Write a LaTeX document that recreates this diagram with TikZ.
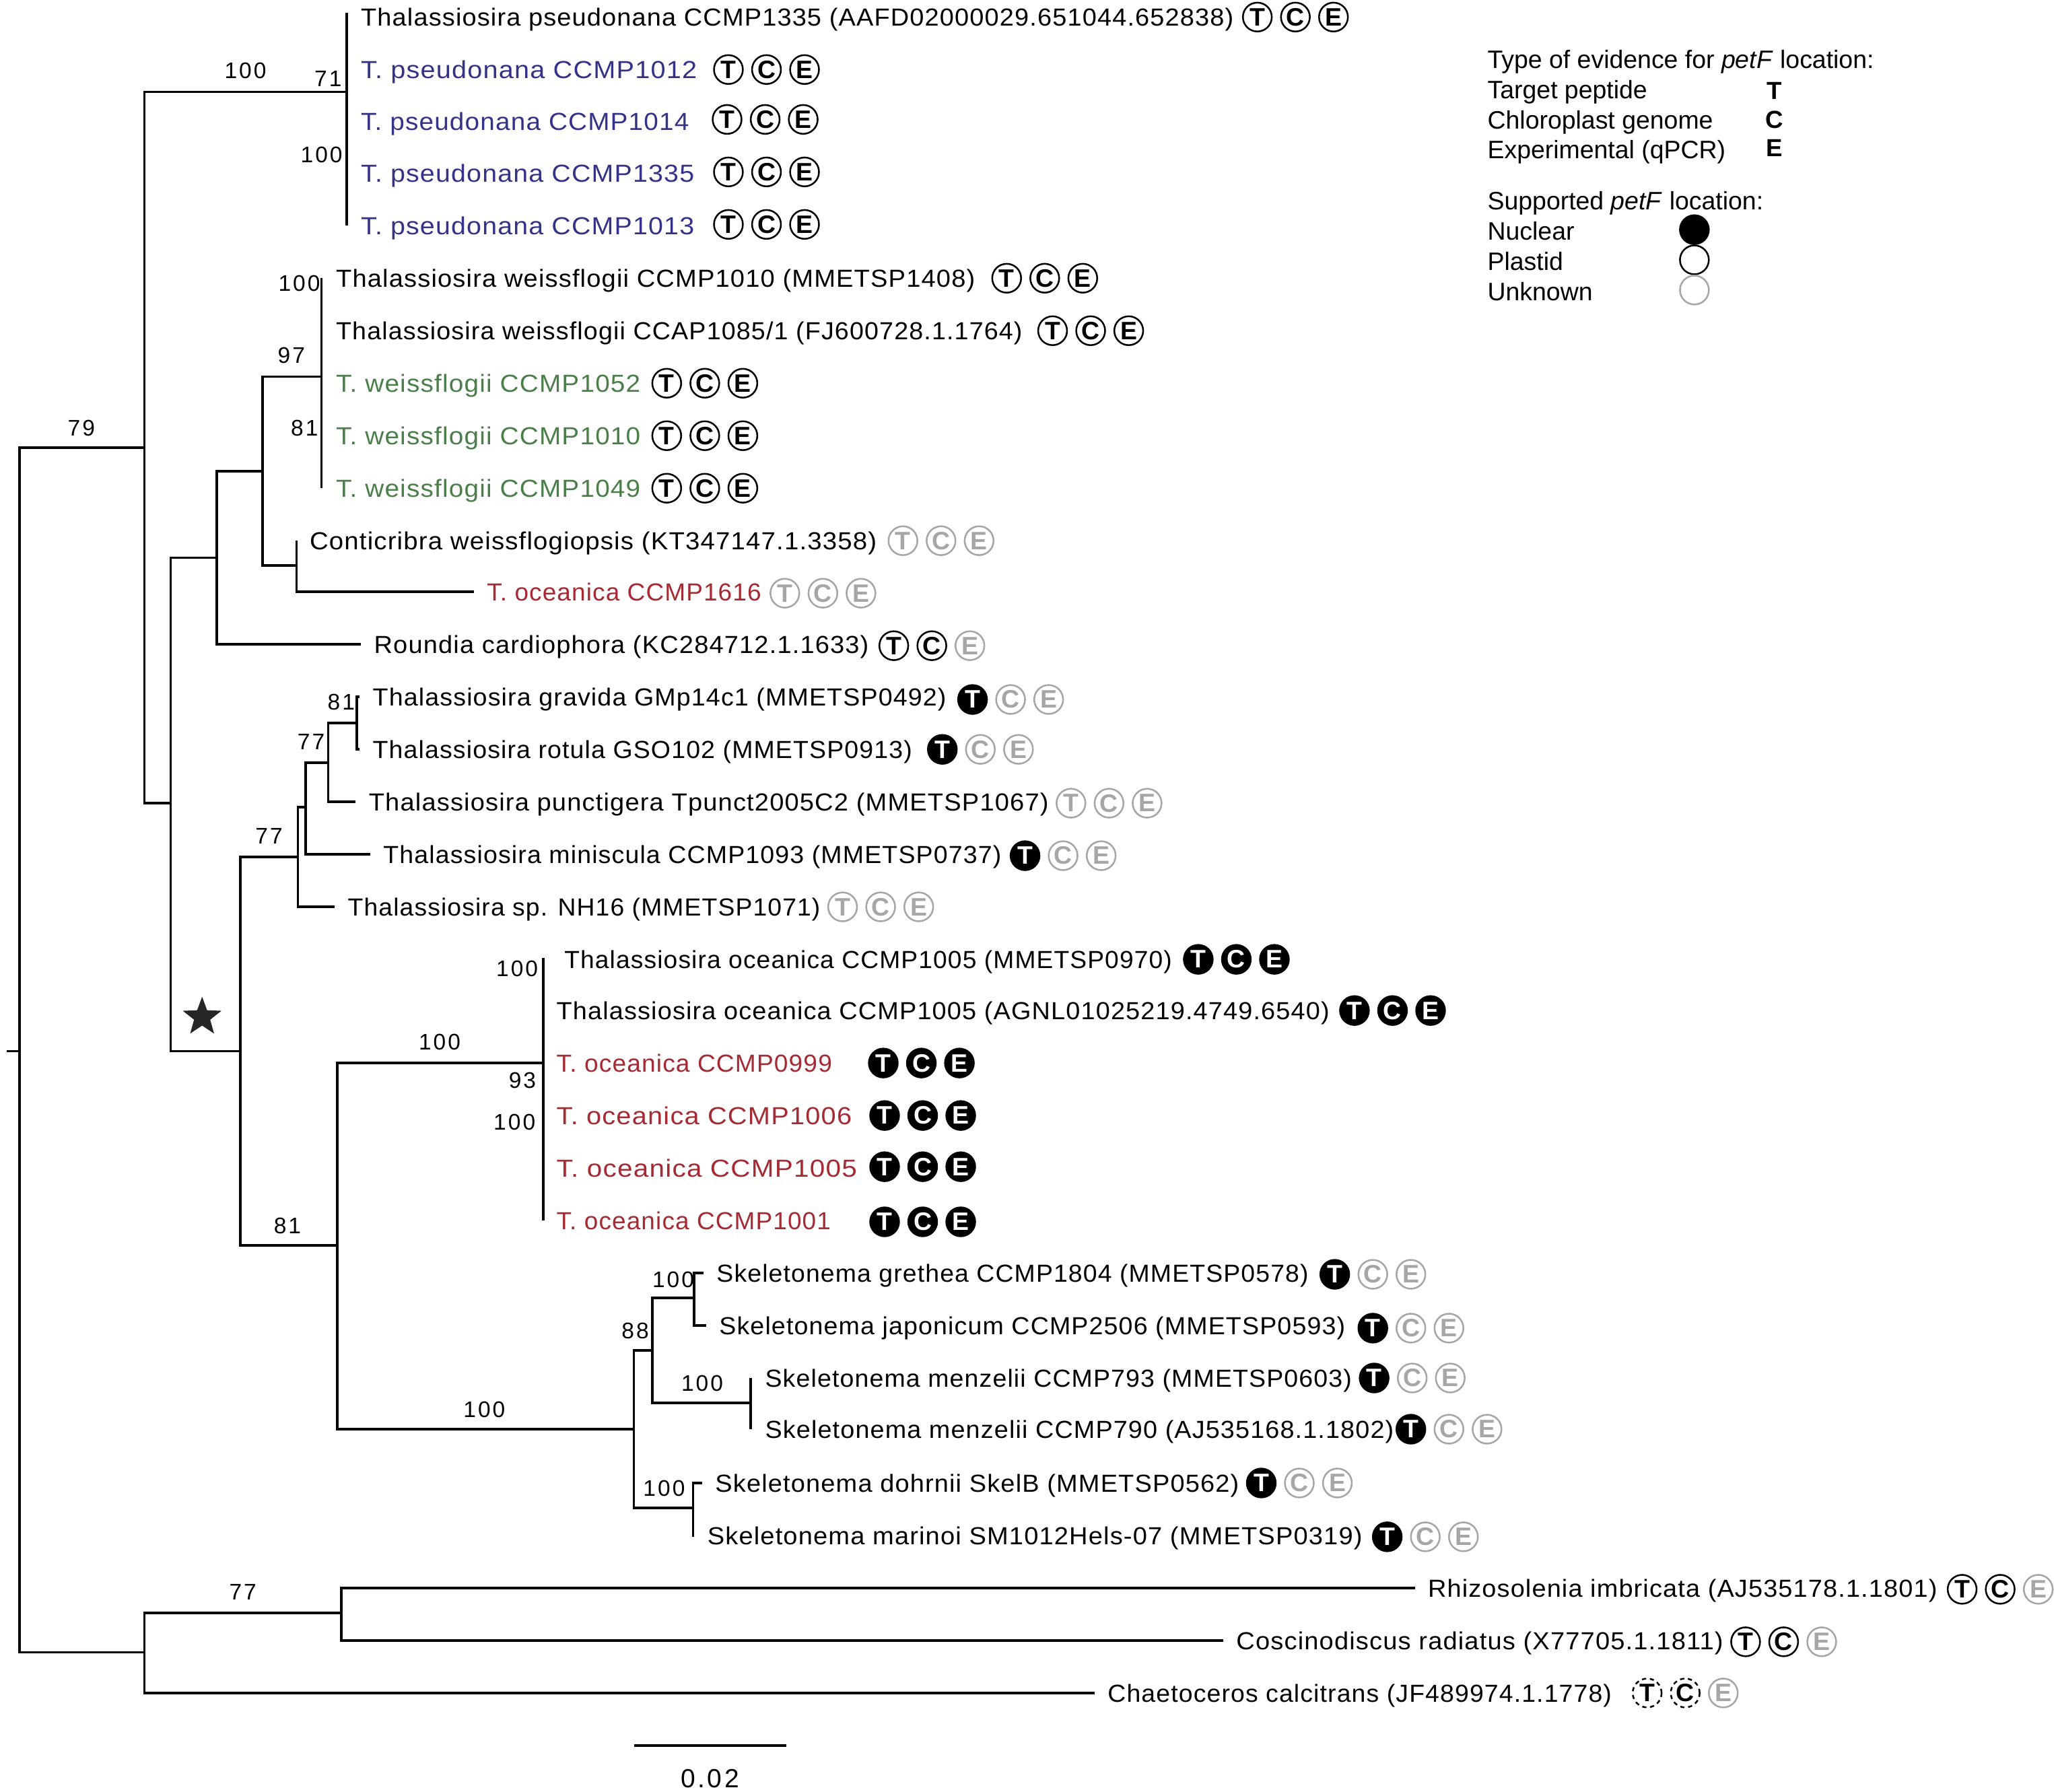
\documentclass[tikz,border=0pt]{standalone}
\usepackage{fontspec}
\usepackage{graphicx}
\usetikzlibrary{shapes.geometric}
\setmainfont{Liberation Sans}
\newfontfamily\taxfont[LetterSpace=3]{Liberation Sans}
\newfontfamily\numfont[LetterSpace=9]{Liberation Sans}
\definecolor{pseublue}{HTML}{343388}
\definecolor{weisgreen}{HTML}{4A7F4A}
\definecolor{oceared}{HTML}{A52A33}
\definecolor{unkgrey}{HTML}{A6A6A6}
\setlength{\unitlength}{0.5pt}
\tikzset{
    branch/.style={line width=0.95pt},
    taxon/.style={anchor=west, inner sep=0pt, outer sep=5pt, text height=9.2pt, text depth=2.2pt,
        font=\taxfont\fontsize{9.4}{12}\selectfont},
    num/.style={inner sep=0pt, font=\numfont\fontsize{8.6}{10}\selectfont},
    legtext/.style={anchor=west, inner sep=0pt, text height=9.2pt, text depth=2.2pt,
        font=\fontsize{9.6}{11}\selectfont},
    legkey/.style={inner sep=0pt, font=\bfseries\fontsize{9.4}{11}\selectfont},
    badge/.style={circle, draw, line width=0.65pt, minimum size=11pt, inner sep=0pt,
        font=\bfseries\fontsize{9.6}{10}\selectfont},
    plastid/.style={badge},
    nuclear/.style={badge, fill=black, text=white},
    unknown/.style={badge, draw=unkgrey, text=unkgrey},
    uncertain/.style={badge, dashed, dash pattern=on 1.6pt off 1.4pt},
}
% three evidence marks of one taxon
\newcommand{\evid}[6]{
    \node[#4] (#1T) at (#2,#3) {T};
    \node[#5] (#1C) at ({#2+29},#3) {C};
    \node[#6] (#1E) at ({#2+58},#3) {E};
}
% label set to the width it has in the figure
\newcommand{\tx}[2]{\resizebox{#1\unitlength}{\height}{#2}}
\begin{document}
\begin{tikzpicture}[x=0.5pt, y=-0.5pt]
    \useasboundingbox (0,0) rectangle (1565,1365);

    % inner nodes of the tree
    \coordinate (stub) at (5,801);
    \coordinate (root) at (15,801);
    \coordinate (core) at (110,341);
    \coordinate (outg) at (110,1259);
    \coordinate (pseu) at (264,70);
    \coordinate (pseutop) at (264,10);
    \coordinate (pseubot) at (264,172);
    \coordinate (rest) at (130,612);
    \coordinate (upper) at (165,425);
    \coordinate (lower) at (183,801);
    \coordinate (wecl) at (200,359);
    \coordinate (weis) at (245,287);
    \coordinate (weistop) at (245,212);
    \coordinate (weisbot) at (245,372);
    \coordinate (cont) at (226,431);
    \coordinate (grav) at (227,653);
    \coordinate (grmi) at (233,615);
    \coordinate (grpu) at (250,581);
    \coordinate (grro) at (272,551);
    \coordinate (ocsk) at (257,949);
    \coordinate (ocea) at (414,810);
    \coordinate (oceatop) at (414,730);
    \coordinate (oceabot) at (414,930);
    \coordinate (skel) at (483,1089);
    \coordinate (skup) at (497,1029);
    \coordinate (skgj) at (529,989);
    \coordinate (menz) at (572,1069);
    \coordinate (menztop) at (572,1050);
    \coordinate (menzbot) at (572,1089);
    \coordinate (skdm) at (528,1149);
    \coordinate (rhco) at (260,1229);
    \coordinate (scalea) at (483,1330);
    \coordinate (scaleb) at (599,1330);

    % taxa
    \node[taxon] (tp1) at (265,13) {\tx{665}{Thalassiosira pseudonana CCMP1335 (AAFD02000029.651044.652838)}};
    \node[taxon, text=pseublue] (tp2) at (265,53) {\tx{256}{T. pseudonana CCMP1012}};
    \node[taxon, text=pseublue] (tp3) at (265,92) {\tx{250}{T. pseudonana CCMP1014}};
    \node[taxon, text=pseublue] (tp4) at (265,132) {\tx{254}{T. pseudonana CCMP1335}};
    \node[taxon, text=pseublue] (tp5) at (265,172) {\tx{254}{T. pseudonana CCMP1013}};
    \node[taxon] (tw1) at (246,212) {\tx{487}{Thalassiosira weissflogii CCMP1010 (MMETSP1408)}};
    \node[taxon] (tw2) at (246,252) {\tx{523}{Thalassiosira weissflogii CCAP1085/1 (FJ600728.1.1764)}};
    \node[taxon, text=weisgreen] (tw3) at (246,292) {\tx{232}{T. weissflogii CCMP1052}};
    \node[taxon, text=weisgreen] (tw4) at (246,332) {\tx{232}{T. weissflogii CCMP1010}};
    \node[taxon, text=weisgreen] (tw5) at (246,372) {\tx{232}{T. weissflogii CCMP1049}};
    \node[taxon] (cw) at (226,412) {\tx{432}{Conticribra weissflogiopsis (KT347147.1.3358)}};
    \node[taxon, text=oceared] (to1) at (361,451) {\tx{209}{T. oceanica CCMP1616}};
    \node[taxon] (rc) at (275,491) {\tx{377}{Roundia cardiophora (KC284712.1.1633)}};
    \node[taxon] (tg) at (274,531) {\tx{437}{Thalassiosira gravida GMp14c1 (MMETSP0492)}};
    \node[taxon] (tr) at (274,571) {\tx{411}{Thalassiosira rotula GSO102 (MMETSP0913)}};
    \node[taxon] (tu) at (271,611) {\tx{518}{Thalassiosira punctigera Tpunct2005C2 (MMETSP1067)}};
    \node[taxon] (tm) at (282,651) {\tx{471}{Thalassiosira miniscula CCMP1093 (MMETSP0737)}};
    \node[taxon] (ts) at (255,691) {\tx{360}{Thalassiosira sp. NH16 (MMETSP1071)}};
    \node[taxon] (oc1) at (420,731) {\tx{463}{Thalassiosira oceanica CCMP1005 (MMETSP0970)}};
    \node[taxon] (oc2) at (414,770) {\tx{589}{Thalassiosira oceanica CCMP1005 (AGNL01025219.4749.6540)}};
    \node[taxon, text=oceared] (oc3) at (414,810) {\tx{210}{T. oceanica CCMP0999}};
    \node[taxon, text=oceared] (oc4) at (414,850) {\tx{225}{T. oceanica CCMP1006}};
    \node[taxon, text=oceared] (oc5) at (414,890) {\tx{229}{T. oceanica CCMP1005}};
    \node[taxon, text=oceared] (oc6) at (414,930) {\tx{209}{T. oceanica CCMP1001}};
    \node[taxon] (sg) at (536,970) {\tx{451}{Skeletonema grethea CCMP1804 (MMETSP0578)}};
    \node[taxon] (sj) at (538,1010) {\tx{477}{Skeletonema japonicum CCMP2506 (MMETSP0593)}};
    \node[taxon] (sm1) at (573,1050) {\tx{447}{Skeletonema menzelii CCMP793 (MMETSP0603)}};
    \node[taxon] (sm2) at (573,1089) {\tx{479}{Skeletonema menzelii CCMP790 (AJ535168.1.1802)}};
    \node[taxon] (sd) at (535,1130) {\tx{399}{Skeletonema dohrnii SkelB (MMETSP0562)}};
    \node[taxon] (sn) at (529,1170) {\tx{499}{Skeletonema marinoi SM1012Hels-07 (MMETSP0319)}};
    \node[taxon] (ri) at (1078,1210) {\tx{388}{Rhizosolenia imbricata (AJ535178.1.1801)}};
    \node[taxon] (cr) at (932,1250) {\tx{371}{Coscinodiscus radiatus (X77705.1.1811)}};
    \node[taxon] (cc) at (834,1290) {\tx{384}{Chaetoceros calcitrans (JF489974.1.1778)}};

    % branches
    \draw[branch] (stub) -- (root);
    \draw[branch] (root) |- (core);
    \draw[branch] (root) |- (outg);
    \draw[branch] (core) |- (pseu);
    \draw[branch] (core) |- (rest);
    \draw[branch] (pseutop) -- (pseubot);
    \draw[branch] (rest) |- (upper);
    \draw[branch] (rest) |- (lower);
    \draw[branch] (upper) |- (wecl);
    \draw[branch] (upper) |- (rc.west);
    \draw[branch] (wecl) |- (weis);
    \draw[branch] (wecl) |- (cont);
    \draw[branch] (weistop) -- (weisbot);
    \draw[branch] (cont) |- (cw.west);
    \draw[branch] (cont) |- (to1.west);
    \draw[branch] (lower) |- (grav);
    \draw[branch] (lower) |- (ocsk);
    \draw[branch] (grav) |- (grmi);
    \draw[branch] (grav) |- (ts.west);
    \draw[branch] (grmi) |- (grpu);
    \draw[branch] (grmi) |- (tm.west);
    \draw[branch] (grpu) |- (grro);
    \draw[branch] (grpu) |- (tu.west);
    \draw[branch] (grro) |- (tg.west);
    \draw[branch] (grro) |- (tr.west);
    \draw[branch] (ocsk) |- (ocea);
    \draw[branch] (ocsk) |- (skel);
    \draw[branch] (oceatop) -- (oceabot);
    \draw[branch] (skel) |- (skup);
    \draw[branch] (skel) |- (skdm);
    \draw[branch] (skup) |- (skgj);
    \draw[branch] (skup) |- (menz);
    \draw[branch] (skgj) |- (sg.west);
    \draw[branch] (skgj) |- (sj.west);
    \draw[branch] (menztop) -- (menzbot);
    \draw[branch] (skdm) |- (sd.west);
    \draw[branch] (skdm) |- (sn.west);
    \draw[branch] (outg) |- (rhco);
    \draw[branch] (outg) |- (cc.west);
    \draw[branch] (rhco) |- (ri.west);
    \draw[branch] (rhco) |- (cr.west);

    % support values
    \node[num] (s1) at (62,326) {79};
    \node[num] (s2) at (187,54) {100};
    \node[num] (s3) at (250,60) {71};
    \node[num] (s4) at (245,118) {100};
    \node[num] (s5) at (228,216) {100};
    \node[num] (s6) at (222,271) {97};
    \node[num] (s7) at (232,326) {81};
    \node[num] (s8) at (260,535) {81};
    \node[num] (s9) at (237,565) {77};
    \node[num] (s10) at (205,637) {77};
    \node[num] (s11) at (394,738) {100};
    \node[num] (s12) at (335,794) {100};
    \node[num] (s13) at (398,823) {93};
    \node[num] (s14) at (392,855) {100};
    \node[num] (s15) at (219,934) {81};
    \node[num] (s16) at (513,975) {100};
    \node[num] (s17) at (484,1014) {88};
    \node[num] (s18) at (535,1054) {100};
    \node[num] (s19) at (369,1074) {100};
    \node[num] (s20) at (506,1134) {100};
    \node[num] (s21) at (185,1213) {77};

    % star
    \node[star, star points=5, star point ratio=2.4, fill=black!85, inner sep=0pt, minimum size=15.5pt] (mark) at (154,775) {};

    % evidence marks
    \evid{tp1}{958}{13}{plastid}{plastid}{plastid}
    \evid{tp2}{555}{53}{plastid}{plastid}{plastid}
    \evid{tp3}{554}{91}{plastid}{plastid}{plastid}
    \evid{tp4}{555}{131}{plastid}{plastid}{plastid}
    \evid{tp5}{555}{171}{plastid}{plastid}{plastid}
    \evid{tw1}{767}{212}{plastid}{plastid}{plastid}
    \evid{tw2}{802}{252}{plastid}{plastid}{plastid}
    \evid{tw3}{508}{292}{plastid}{plastid}{plastid}
    \evid{tw4}{508}{332}{plastid}{plastid}{plastid}
    \evid{tw5}{508}{372}{plastid}{plastid}{plastid}
    \evid{cw}{688}{412}{unknown}{unknown}{unknown}
    \evid{to1}{598}{452}{unknown}{unknown}{unknown}
    \evid{rc}{681}{492}{plastid}{plastid}{unknown}
    \evid{tg}{741}{533}{nuclear}{unknown}{unknown}
    \evid{tr}{718}{571}{nuclear}{unknown}{unknown}
    \evid{tu}{816}{612}{unknown}{unknown}{unknown}
    \evid{tm}{781}{652}{nuclear}{unknown}{unknown}
    \evid{ts}{642}{691}{unknown}{unknown}{unknown}
    \evid{oc1}{913}{731}{nuclear}{nuclear}{nuclear}
    \evid{oc2}{1032}{770}{nuclear}{nuclear}{nuclear}
    \evid{oc3}{673}{810}{nuclear}{nuclear}{nuclear}
    \evid{oc4}{674}{850}{nuclear}{nuclear}{nuclear}
    \evid{oc5}{674}{889}{nuclear}{nuclear}{nuclear}
    \evid{oc6}{674}{931}{nuclear}{nuclear}{nuclear}
    \evid{sg}{1017}{971}{nuclear}{unknown}{unknown}
    \evid{sj}{1046}{1012}{nuclear}{unknown}{unknown}
    \evid{sm1}{1047}{1050}{nuclear}{unknown}{unknown}
    \evid{sm2}{1075}{1089}{nuclear}{unknown}{unknown}
    \evid{sd}{961}{1130}{nuclear}{unknown}{unknown}
    \evid{sn}{1057}{1171}{nuclear}{unknown}{unknown}
    \evid{ri}{1495}{1211}{plastid}{plastid}{unknown}
    \evid{cr}{1330}{1251}{plastid}{plastid}{unknown}
    \evid{cc}{1255}{1290}{uncertain}{uncertain}{unknown}

    % scale bar
    \draw[branch] (scalea) -- (scaleb);
    \node[num, font=\numfont\fontsize{10}{12}\selectfont] (scalelab) at (541,1355) {0.02};

    % legend
    \node[legtext] (lg1) at (1133,45) {Type of evidence for \textit{petF} location:};
    \node[legtext] (lg2) at (1133,68) {Target peptide};
    \node[legtext] (lg3) at (1133,91) {Chloroplast genome};
    \node[legtext] (lg4) at (1133,114) {Experimental (qPCR)};
    \node[legkey] (kT) at (1352,69) {T};
    \node[legkey] (kC) at (1352,91) {C};
    \node[legkey] (kE) at (1352,113) {E};
    \node[legtext] (lg5) at (1133,153) {Supported \textit{petF} location:};
    \node[legtext] (lg6) at (1133,176) {Nuclear};
    \node[legtext] (lg7) at (1133,199) {Plastid};
    \node[legtext] (lg8) at (1133,222) {Unknown};
    \node[nuclear] (kN) at (1291,175) {};
    \node[plastid] (kP) at (1291,198) {};
    \node[unknown] (kU) at (1291,221) {};
\end{tikzpicture}
\end{document}
